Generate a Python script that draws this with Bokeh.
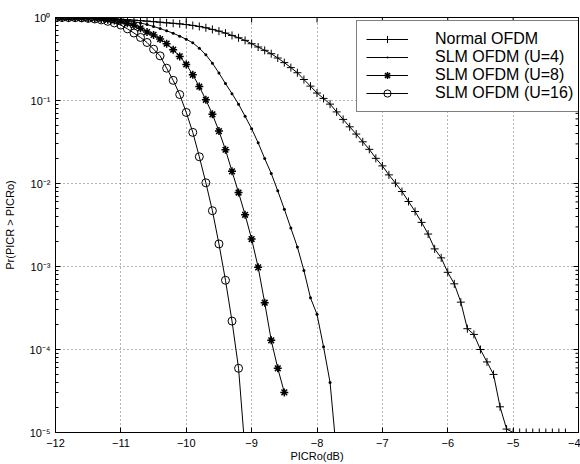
from math import pi
from bokeh.plotting import figure
from bokeh.models import (Range1d, FixedTicker, CustomJSTickFormatter, Legend, LegendItem)
from bokeh.embed import file_html
from bokeh.resources import INLINE

# ---- data ----
picr_db = [-12.0, -11.9, -11.8, -11.7, -11.6, -11.5, -11.4, -11.3, -11.2, -11.1,
           -11.0, -10.9, -10.8, -10.7, -10.6, -10.5, -10.4, -10.3, -10.2, -10.1,
           -10.0, -9.9, -9.8, -9.7, -9.6, -9.5, -9.4, -9.3, -9.2, -9.1,
           -9.0, -8.9, -8.8, -8.7, -8.6, -8.5, -8.4, -8.3, -8.2, -8.1,
           -8.0, -7.9, -7.8, -7.7, -7.6, -7.5, -7.4, -7.3, -7.2, -7.1,
           -7.0, -6.9, -6.8, -6.7, -6.6, -6.5, -6.4, -6.3, -6.2, -6.1,
           -6.0, -5.9, -5.8, -5.7, -5.6, -5.5, -5.4, -5.3, -5.2, -5.1,
           -5.0, -4.9, -4.8, -4.7, -4.6, -4.5, -4.4, -4.3, -4.2]

normal_ofdm = [1.0, 0.998, 0.995, 0.993, 0.991, 0.986, 0.982, 0.975, 0.968, 0.959,
               0.951, 0.940, 0.929, 0.916, 0.904, 0.891, 0.877, 0.863, 0.851, 0.838,
               0.822, 0.802, 0.780, 0.752, 0.718, 0.685, 0.649, 0.608, 0.570, 0.530,
               0.483, 0.441, 0.402, 0.366, 0.325, 0.286, 0.249, 0.216, 0.179, 0.149,
               0.123, 0.106, 0.0904, 0.0729, 0.0592, 0.0482, 0.0394, 0.0318, 0.0258, 0.0201,
               0.0163, 0.0127, 0.0101, 0.00800, 0.00607, 0.00460, 0.00340, 0.00246, 0.00163, 0.00127,
               0.000851, 0.000618, 0.000372, 0.000178, 0.000152, 0.000100, 0.0000708, 0.0000501, 0.0000204, 0.0000110,
               0.00001, 0.00001, 0.00001, 0.00001, 0.00001, 0.00001, 0.00001, 0.00001, 0.00001]

slm_u4 = [1.0, 0.999, 0.999, 0.998, 0.997, 0.995, 0.990, 0.984, 0.972, 0.955,
          0.933, 0.912, 0.887, 0.859, 0.822, 0.780, 0.736, 0.692, 0.646, 0.596,
          0.547, 0.495, 0.427, 0.355, 0.282, 0.214, 0.160, 0.121, 0.0902, 0.0646,
          0.0457, 0.0309, 0.0200, 0.0132, 0.00815, 0.00491, 0.00290, 0.00172, 0.000893, 0.000420,
          0.000265, 0.000108, 0.0000401, 0.0000055]

slm_u8 = [1.0, 0.998, 0.995, 0.993, 0.989, 0.982, 0.973, 0.959, 0.942, 0.920,
          0.895, 0.855, 0.804, 0.741, 0.668, 0.617, 0.550, 0.484, 0.409, 0.340,
          0.272, 0.204, 0.147, 0.102, 0.0682, 0.0428, 0.0255, 0.0140, 0.00778, 0.00420,
          0.00214, 0.000977, 0.000366, 0.000129, 0.0000594, 0.0000304]

slm_u16 = [1.0, 0.999, 0.997, 0.994, 0.989, 0.975, 0.960, 0.935, 0.900, 0.860,
           0.810, 0.730, 0.650, 0.575, 0.500, 0.415, 0.345, 0.245, 0.175, 0.118,
           0.0718, 0.0413, 0.0210, 0.0102, 0.00470, 0.00187, 0.000683, 0.000220, 0.0000594, 0.0000060]

series_names = ["Normal OFDM", "SLM OFDM (U=4)", "SLM OFDM (U=8)", "SLM OFDM (U=16)"]

x_ticks = [-12, -11, -10, -9, -8, -7, -6, -5, -4]
x_tick_labels = ["\u221212", "\u221211", "\u221210", "\u22129", "\u22128", "\u22127", "\u22126", "\u22125", "\u22124"]
y_ticks = [1e-5, 1e-4, 1e-3, 1e-2, 1e-1, 1.0]
y_tick_labels = ["10\u207b\u2075", "10\u207b\u2074", "10\u207b\u00b3", "10\u207b\u00b2", "10\u207b\u00b9", "10\u2070"]
x_label = "PICRo(dB)"
y_label = "Pr(PICR > PICRo)"

FONT = "Liberation Sans"

# ---- figure ----
p = figure(width=580, height=464, x_range=Range1d(-12, -4), y_range=Range1d(1e-5, 1),
           y_axis_type="log", output_backend="svg", toolbar_location=None,
           x_axis_label=x_label, y_axis_label=y_label,
           min_border_left=51, min_border_right=2, min_border_top=17, min_border_bottom=31)
p.background_fill_color = "white"
p.border_fill_color = "white"
p.outline_line_color = "black"
p.outline_line_width = 1

x_ticker = FixedTicker(ticks=x_ticks)
y_minor = [m * 10.0 ** e for e in range(-5, 0) for m in range(2, 10)]
y_ticker = FixedTicker(ticks=y_ticks, minor_ticks=y_minor)

x_fmt = CustomJSTickFormatter(args=dict(xt=x_ticks, xl=x_tick_labels), code="""
const i = xt.indexOf(Math.round(tick));
return i < 0 ? '' : xl[i];
""")
y_fmt = CustomJSTickFormatter(args=dict(yt=y_ticks, yl=y_tick_labels), code="""
for (let i = 0; i < yt.length; i++) {
  if (Math.abs(Math.log10(yt[i]) - Math.log10(tick)) < 1e-6) return yl[i];
}
return '';
""")

xa = p.xaxis[0]
ya = p.yaxis[0]
xa.ticker = x_ticker
xa.formatter = x_fmt
ya.ticker = y_ticker
ya.formatter = y_fmt
p.xgrid.ticker = x_ticker
p.ygrid.ticker = y_ticker

for ax in (xa, ya):
    ax.major_tick_in = 5
    ax.major_tick_out = 0
    ax.minor_tick_in = 3
    ax.minor_tick_out = 0
    ax.axis_line_color = "black"
    ax.major_tick_line_color = "black"
    ax.minor_tick_line_color = "black"
    ax.major_label_text_font = FONT
    ax.major_label_text_font_size = "11px"
    ax.major_label_text_color = "black"
    ax.axis_label_text_font = FONT
    ax.axis_label_text_font_size = "11px"
    ax.axis_label_text_font_style = "normal"
    ax.axis_label_text_color = "black"
xa.minor_tick_line_color = None
xa.major_label_standoff = 6
xa.axis_label_standoff = 0
ya.major_label_standoff = 5
ya.axis_label_standoff = 11

for g in (p.xgrid[0], p.ygrid[0]):
    g.grid_line_color = "#666666"
    g.grid_line_dash = "1 3"
    g.grid_line_width = 1

# inward tick marks on the top and right edges of the box (half of each mark is clipped by the frame)
p.scatter(x_ticks, [y_ticks[-1]] * len(x_ticks), marker="dash", angle=pi / 2, size=10,
          line_color="black", line_width=1)
p.scatter([x_ticks[-1]] * len(y_ticks), y_ticks, marker="dash", size=10,
          line_color="black", line_width=1)
p.scatter([x_ticks[-1]] * len(y_minor), y_minor, marker="dash", size=6,
          line_color="black", line_width=1)

# ---- series ----
def xs(vals):
    return picr_db[:len(vals)]

l1 = p.line(xs(normal_ofdm), normal_ofdm, line_color="black", line_width=1)
s1 = p.scatter(xs(normal_ofdm), normal_ofdm, marker="cross", size=8, line_color="black", line_width=1)

l2 = p.line(xs(slm_u4), slm_u4, line_color="black", line_width=1)
s2 = p.scatter(xs(slm_u4), slm_u4, marker="dot", size=12, line_color="black", fill_color="black")

l3 = p.line(xs(slm_u8), slm_u8, line_color="black", line_width=1)
s3 = p.scatter(xs(slm_u8), slm_u8, marker="asterisk", size=8, line_color="black", line_width=1.5)

l4 = p.line(xs(slm_u16), slm_u16, line_color="black", line_width=1)
s4 = p.scatter(xs(slm_u16), slm_u16, marker="circle", size=8, line_color="black",
               fill_color=None, line_width=1)

legend = Legend(items=[LegendItem(label=series_names[0], renderers=[l1, s1]),
                       LegendItem(label=series_names[1], renderers=[l2, s2]),
                       LegendItem(label=series_names[2], renderers=[l3, s3]),
                       LegendItem(label=series_names[3], renderers=[l4, s4])],
                location=(301, 320), glyph_width=42, glyph_height=18, label_height=18,
                spacing=0, padding=9, label_standoff=27, margin=0,
                label_text_font=FONT, label_text_font_size="16px", label_text_color="black",
                border_line_color="black", border_line_width=1,
                background_fill_color="white", background_fill_alpha=1)
p.add_layout(legend)

open("out.html", "w").write(file_html(p, INLINE))
